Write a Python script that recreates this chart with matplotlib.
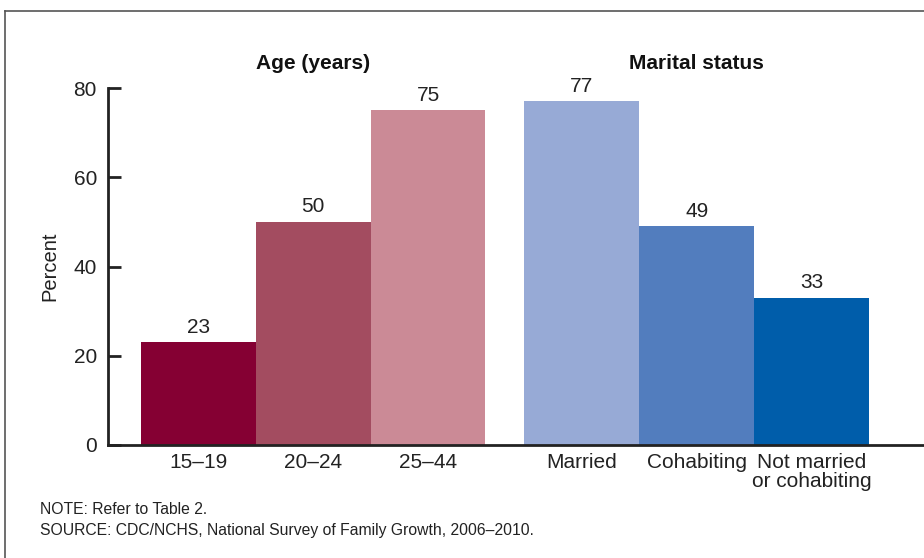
import matplotlib
matplotlib.use("Agg")
import matplotlib.pyplot as plt
from matplotlib.lines import Line2D

plt.rcParams['font.family'] = ['Liberation Sans', 'DejaVu Sans']

categories = ["15\u201319", "20\u201324", "25\u201344", "Married", "Cohabiting", "Not married\nor cohabiting"]
values = [23, 50, 75, 77, 49, 33]
colors = ["#850033", "#A34C60", "#CB8A96", "#97AAD6", "#527DBE", "#005DAA"]
positions = [0, 1, 2, 3.34, 4.34, 5.34]
group_titles = ["Age (years)", "Marital status"]
yticks = [0, 20, 40, 60, 80]

W, H = 924, 558
fig = plt.figure(figsize=(W / 100, H / 100), dpi=100)
ax = fig.add_axes([108 / W, 113 / H, 1 - 108 / W + 0.01, (445 - 88) / H])

ax.bar(positions, values, width=1.0, color=colors, edgecolor='none')
for p, v in zip(positions, values):
    ax.text(p, v + 1.3, str(v), ha='center', va='bottom', fontsize=15, color='#222222')

ax.set_xlim(-0.787, 6.4)
ax.set_ylim(0, 80)
ax.set_yticks(yticks)
ax.set_xticks(positions)
ax.set_xticklabels(categories, fontsize=15, color='#222222', linespacing=0.95, va='top')
ax.tick_params(axis='x', length=0, pad=6)
ax.tick_params(axis='y', direction='in', length=9, width=2, color='#222222', labelsize=15, labelcolor='#222222', pad=8)
for s in ['top', 'right']:
    ax.spines[s].set_visible(False)
for s in ['left', 'bottom']:
    ax.spines[s].set_linewidth(2)
    ax.spines[s].set_color('#222222')
ax.set_ylabel("Percent", fontsize=14.5, color='#222222', labelpad=10)

# group headers
ax.text(1.0, 85.5, group_titles[0], ha='center', va='center', fontsize=15, fontweight='bold', color='#111111')
ax.text(4.34, 85.5, group_titles[1], ha='center', va='center', fontsize=15, fontweight='bold', color='#111111')

# frame lines (left and top)
fig.add_artist(Line2D([5 / W, 5 / W], [0, 1 - 11 / H], transform=fig.transFigure, color='#555555', lw=1.2))
fig.add_artist(Line2D([5 / W, 1], [1 - 11 / H, 1 - 11 / H], transform=fig.transFigure, color='#555555', lw=1.2))

fig.text(40 / W, 1 - 509 / H, "NOTE: Refer to Table 2.", fontsize=11.3, color='#222222', va='center', ha='left')
fig.text(40 / W, 1 - 530 / H, "SOURCE: CDC/NCHS, National Survey of Family Growth, 2006\u20132010.", fontsize=11.3, color='#222222', va='center', ha='left')

fig.savefig("out.png", dpi=100)
